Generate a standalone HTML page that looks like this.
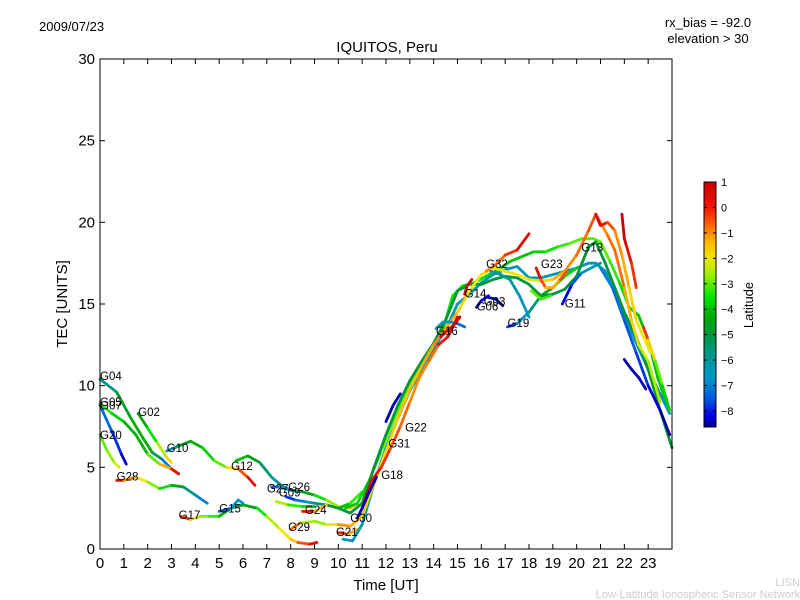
<!DOCTYPE html>
<html><head><meta charset="utf-8"><style>
body{margin:0;background:#fff;}
svg{display:block;font-family:"Liberation Sans","DejaVu Sans",sans-serif;}
</style></head><body>
<svg id="chart" width="800" height="600" viewBox="0 0 800 600">
<rect width="800" height="600" fill="#fff"/>
<text x="39" y="31" font-size="13">2009/07/23</text>
<text x="708" y="27" font-size="13" text-anchor="middle">rx_bias = -92.0</text>
<text x="708" y="43" font-size="13" text-anchor="middle">elevation &gt; 30</text>
<text x="387" y="52" font-size="15" text-anchor="middle">IQUITOS, Peru</text>
<text x="386" y="590" font-size="15" text-anchor="middle">Time [UT]</text>
<text transform="translate(67,304) rotate(-90)" font-size="15" text-anchor="middle">TEC [UNITS]</text>
<text x="800" y="586" font-size="11" fill="#ccc" text-anchor="end">LISN</text>
<text x="800" y="598" font-size="11" fill="#ccc" text-anchor="end">Low-Latitude Ionospheric Sensor Network</text>
<g id="plot"></g>
<g id="axes"></g>
<g id="cbar"></g>
</svg>
<script>
const xTicks=[0,1,2,3,4,5,6,7,8,9,10,11,12,13,14,15,16,17,18,19,20,21,22,23];
const yTicks=[0,5,10,15,20,25,30];
const cbTicks=[1,0,-1,-2,-3,-4,-5,-6,-7,-8];
const latRange=[-8.63,1.0];
const tracks=[
{t:[0,0.7,1.3,1.8,2.2,2.6,3.0,3.3],tec:[10.4,9.6,8.0,6.8,5.9,5.5,4.9,4.6],lat:[-6.5,-5,-4.5,-4,-4.5,-6,-8,-8.5]},
{t:[0,0.5,0.9,1.1],tec:[8.8,7.2,5.8,5.2],lat:[-7,-7.5,-8.2,-8.5]},
{t:[0,0.5,1,1.5,2,2.5,3,3.3],tec:[8.9,8.3,7.8,7.0,5.8,5.2,4.9,4.6],lat:[-3,-3.5,-4,-4.5,-4,-2,-0.5,0.5]},
{t:[0,0.3,0.6,0.8],tec:[7.0,6.0,5.3,5.0],lat:[-3,-3,-2.5,-2]},
{t:[1.6,2.0,2.4,2.8,3.0],tec:[8.3,7.4,6.5,5.6,5.3],lat:[-5,-4,-3,-2,-1.5]},
{t:[0.7,1.0,1.5,2,2.5,3,3.5,4,4.5],tec:[4.2,4.2,4.4,4.1,3.7,3.9,3.8,3.3,2.8],lat:[0.5,-0.5,-1.5,-2.5,-3,-4,-5,-6.5,-7.5]},
{t:[2.8,3.3,3.8,4.3,4.8,5.3,5.8,6.2,6.5],tec:[6.0,6.3,6.6,6.2,5.4,5.0,4.9,4.4,3.9],lat:[-8,-5,-4.5,-4,-3.5,-2.5,-1,0,0.5]},
{t:[5.7,6.2,6.7,7.2,7.6,8.0],tec:[5.4,5.7,5.3,4.4,3.9,3.6],lat:[-3.5,-4.5,-5,-6,-6.5,-6]},
{t:[3.4,3.8,4.2,4.6,5,5.5,6,6.6,7,7.5,8,8.3,8.8,9.1],tec:[2.0,1.8,2.0,2.0,2.0,2.5,2.7,2.5,2.0,1.3,0.6,0.4,0.3,0.4],lat:[0.5,-1,-2.5,-3,-3.5,-5,-5,-4,-3,-2,-2,-1,0,0.5]},
{t:[5,5.5,5.8,6],tec:[2.3,2.5,3.0,2.8],lat:[-8,-7,-6.5,-7]},
{t:[7.2,7.5,8,8.5,9,9.5,10,10.5,10.8],tec:[3.8,3.8,3.6,3.5,3.3,3.0,2.6,2.5,2.8],lat:[-8,-7,-6,-5,-4,-3,-2.5,-2,-1]},
{t:[7.8,8.2,8.6,9,9.5,10,10.5,11],tec:[3.2,3.0,2.9,2.8,2.7,2.5,2.8,3.5],lat:[-8.5,-7,-7,-6,-5.5,-4.5,-3.5,-3]},
{t:[8.5,9,9.5],tec:[2.3,2.3,2.7],lat:[0.5,-0.5,-2]},
{t:[7.4,7.9,8.5,9],tec:[2.9,2.7,2.6,2.6],lat:[-2,-3,-3.5,-4]},
{t:[8,8.4,9,9.5,10,10.5],tec:[1.2,1.6,1.7,1.5,1.5,1.4],lat:[0.5,-2,-3,-2.5,-1.5,-0.5]},
{t:[10,10.4,10.8],tec:[1.0,0.9,1.2],lat:[0.5,-1,-1.5]},
{t:[10.3,10.8,11.3,11.8,12.3,12.8,13.3,13.8,14.3,14.8,15.2,15.7,16.2,16.7,17.2,17.7,18.2,18.7,19.2,19.7,20.2,20.7,21.0,21.4,21.8,22.2,22.6,23.0,23.4,23.8],tec:[2.5,2.8,4.2,6.0,7.8,9.5,10.8,11.8,13.0,15.5,16.1,16.3,16.7,17.1,17.6,17.9,18.2,18.2,18.5,18.7,19.0,19.0,18.8,17.6,16.3,14.8,14.3,12.8,10.5,8.8],lat:[-4,-4,-3.5,-3,-3,-3,-3,-3,-3.5,-3.5,-3.5,-3.5,-3.5,-4,-4,-4,-4,-3.5,-3.5,-3,-3,-3,-3,-3,-3.5,-3.5,-4,-4,-4,-4]},
{t:[10.2,10.6,11.0,11.5,12.0,12.5,13.0,13.5,14.0,14.5,15.0,15.5,16.0,16.5,17.0,17.5,18.0,18.5,19.0,19.5,20.0,20.5,20.8,21.2,21.6,22.0,22.5,23.0,23.5,23.9],tec:[0.6,0.5,1.5,4.0,6.2,8.0,9.7,11.0,12.3,13.4,15.0,15.6,16.3,16.8,17.1,17.3,16.6,16.6,16.8,17.0,17.2,17.5,17.5,17.0,15.8,14.3,12.6,11.0,9.5,8.3],lat:[-6.5,-6.5,-6.5,-6.5,-6.5,-6.5,-6.5,-6.5,-6.5,-6.5,-6.5,-6.5,-6.5,-6.5,-6.5,-6.5,-6.5,-6.5,-6.5,-6.5,-6.5,-6.5,-6.5,-6.5,-6.5,-6.5,-6.5,-6.5,-6.5,-6.5]},
{t:[10.0,10.5,11.0,11.5,12.0,12.5,13.0,13.5,14.0,14.5,15.0,15.5,16.0,16.5,17.0,17.5,18.0,18.5,19.0,19.5,20.0,20.5,20.8,21.2,21.6,22.0,22.5,23.0,23.5,24.0],tec:[2.5,2.2,2.8,5.0,7.0,8.8,10.3,11.5,12.6,14.0,15.8,16.2,16.2,16.5,16.7,16.6,16.2,15.5,15.6,15.9,16.7,18.5,18.8,17.5,16.0,14.5,13.0,11.0,8.5,6.2],lat:[-5,-5,-5,-5,-5,-5,-5,-5,-5,-5,-5,-5,-5,-5,-5,-5,-5,-5,-5,-5,-5,-5,-5,-5,-5,-5,-5,-5,-5,-5]},
{t:[10.5,11.0,11.5,12.0,12.5,13.0,13.5,14.0,14.5,15.0,15.5,16.0,16.5,17.0,17.5,18.0,18.5,19.0,19.5,20.0,20.5,20.8,21.0,21.3,21.6,22.0,22.3,22.6,23.0,23.5],tec:[1.4,2.0,4.0,6.0,8.0,9.8,11.2,12.5,13.5,14.5,15.8,16.8,17.2,17.0,16.8,16.5,16.4,16.5,17.0,18.0,19.5,20.5,20.0,19.2,18.3,16.0,14.0,12.5,11.5,9.0],lat:[-1,-1.5,-2,-2,-1.5,-1.5,-1.5,-1,-1,-1.5,-2,-2,-2,-2,-2,-2,-2,-1.5,-1,-1,-0.5,-0.5,-1,-1,-0.5,-1,-1.5,-2,-2.5,-2.5]},
{t:[11.0,11.4,11.8,12.2,12.6,13.0,13.4,13.8,14.2,14.6,15.0],tec:[2.5,4.2,5.0,6.2,7.5,9.0,10.5,11.5,12.5,13.0,14.2],lat:[0.5,0.5,0,-0.5,-0.5,-1,-1,-1,-0.5,0.5,1]},
{t:[19.4,19.8,20.2,20.6,21.0],tec:[15.0,16.2,16.9,17.2,17.5],lat:[-8.5,-8,-7,-6.5,-6]},
{t:[20.8,21.0,21.3,21.6,21.9,22.2,22.5,22.8,23.1],tec:[20.5,19.8,20.0,19.5,18.0,16.0,14.0,13.0,12.0],lat:[1,0.5,0,-1,-1,-1.5,-2,-2,-2]},
{t:[21.9,22.0,22.1,22.3,22.5],tec:[20.5,19.0,18.5,17.5,16],lat:[1,1,0.5,0,-0.5]},
{t:[22.8,23.0,23.3,23.6,23.9],tec:[13.6,12.8,11.5,10.0,8.5],lat:[0.5,-1,-2.5,-3.5,-4]},
{t:[22,22.3,22.6,22.9],tec:[11.6,11.0,10.5,9.8],lat:[-8.5,-8.5,-8.3,-8.5]},
{t:[21.0,21.5,22,22.5,23,23.5,23.9],tec:[17.2,16,14,12,10,8.5,7],lat:[-7,-7,-7.5,-7.5,-8,-8.5,-8.6]},
{t:[14.1,14.4,14.7,15.0,15.3],tec:[13.5,13.9,13.9,13.8,13.6],lat:[-6,-6.5,-6.5,-7,-7.5]},
{t:[14.3,14.6,14.9,15.1],tec:[13,13.4,13.8,14.2],lat:[0.5,0.8,1,1]},
{t:[15.3,15.4,15.6],tec:[15.6,16.1,16.5],lat:[1,1,0.5]},
{t:[15.8,16.0,16.3],tec:[14.8,15.2,15.5],lat:[-8.5,-8.5,-8]},
{t:[16.3,16.6,16.9],tec:[15.4,15.3,14.9],lat:[-8,-8.5,-8.6]},
{t:[17.1,17.5,18,18.5,19,19.5,20],tec:[13.6,13.8,14.5,15.5,16.0,16.7,17.2],lat:[-8.5,-7,-6,-5,-4.5,-4,-3.5]},
{t:[16.4,16.8,17.2,17.6,18.0],tec:[17.0,16.8,16.5,15.5,14.2],lat:[-6,-6,-6,-6.5,-6.5]},
{t:[16.2,16.6,17,17.5,18],tec:[17.0,17.4,18,18.3,19.3],lat:[-1,-1,-0.5,0,1]},
{t:[18.3,18.5,18.7,19.0,19.3,19.6],tec:[17.2,16.5,16.0,16.0,16.5,17.0],lat:[1,0,-1,-1.5,-1,0]},
{t:[18.1,18.5,18.9],tec:[15.8,15.3,15.5],lat:[-3,-3,-3.5]},
{t:[10.8,11.0,11.3,11.6],tec:[1.9,2.5,3.5,4.4],lat:[-8.5,-8.5,-8.3,-8.5]},
{t:[12.0,12.3,12.6],tec:[7.8,8.8,9.5],lat:[-8.5,-8.5,-8.3]}
];
const labelNames=["G04","G05","G07","G20","G02","G28","G10","G12","G17","G15","G27","G26","G09","G24","G29","G21","G30","G18","G31","G22","G16","G14","G03","G06","G19","G32","G23","G11","G13"];
const labelT=[0,0,0,0,1.6,0.7,2.8,5.5,3.3,5.0,7.0,7.9,7.5,8.6,7.9,9.9,10.5,11.8,12.1,12.8,14.1,15.3,16.1,15.8,17.1,16.2,18.5,19.5,20.2];
const labelTec=[10.35,8.75,8.55,6.75,8.15,4.2,5.95,4.85,1.85,2.25,3.45,3.55,3.2,2.15,1.1,0.8,1.65,4.3,6.2,7.2,13.1,15.4,14.9,14.6,13.6,17.2,17.2,14.8,18.2];

const X0=100,X1=672,Y0=549,Y1=59;
const xs=t=>X0+(t/24)*(X1-X0);
const ys=v=>Y0-(v/30)*(Y0-Y1);
const NS="http://www.w3.org/2000/svg";
const cStops=[[-8.63,0,0,140],[-8.2,0,0,230],[-7.5,0,90,220],[-6.7,0,150,200],[-5.8,0,150,140],[-5.0,0,150,60],[-4.3,0,170,0],[-3.5,0,230,0],[-2.7,150,240,0],[-2.0,240,230,0],[-1.3,255,180,0],[-0.7,255,100,0],[0,240,20,0],[1,200,0,0]];
function cmap(l){
 if(l<=cStops[0][0])return `rgb(${cStops[0][1]},${cStops[0][2]},${cStops[0][3]})`;
 for(let i=0;i<cStops.length-1;i++){const a=cStops[i],b=cStops[i+1];
  if(l<=b[0]){const f=(l-a[0])/(b[0]-a[0]);
   return `rgb(${Math.round(a[1]+f*(b[1]-a[1]))},${Math.round(a[2]+f*(b[2]-a[2]))},${Math.round(a[3]+f*(b[3]-a[3]))})`;}}
 const e=cStops[cStops.length-1];return `rgb(${e[1]},${e[2]},${e[3]})`;}
const latN=l=>(l-latRange[0])/(latRange[1]-latRange[0]);
const plot=document.getElementById('plot');
tracks.forEach((tr,ti)=>{
 const g=document.createElementNS(NS,'g');
 
 
 for(let i=0;i<tr.t.length-1;i++){
  const l=document.createElementNS(NS,'line');
  l.setAttribute('x1',xs(tr.t[i]));l.setAttribute('y1',ys(tr.tec[i]));
  l.setAttribute('x2',xs(tr.t[i+1]));l.setAttribute('y2',ys(tr.tec[i+1]));
  l.setAttribute('stroke',cmap((tr.lat[i]+tr.lat[i+1])/2));
  l.setAttribute('stroke-width','2.8');l.setAttribute('stroke-linecap','round');
  
  
  g.appendChild(l);}
 plot.appendChild(g);});
labelNames.forEach((n,i)=>{
 const t=document.createElementNS(NS,'text');
 t.setAttribute('x',xs(labelT[i]));t.setAttribute('y',ys(labelTec[i]));
 t.setAttribute('font-size','11.5');t.textContent=n;
 
 
 plot.appendChild(t);});
const ax=document.getElementById('axes');
let h=`<rect x="${X0}" y="${Y1}" width="${X1-X0}" height="${Y0-Y1}" fill="none" stroke="#000" stroke-width="1"/>`;
xTicks.forEach(v=>{const x=xs(v);
 h+=`<line x1="${x}" y1="${Y0}" x2="${x}" y2="${Y0-5}" stroke="#000"/><line x1="${x}" y1="${Y1}" x2="${x}" y2="${Y1+5}" stroke="#000"/>`;
 h+=`<text x="${x}" y="568" font-size="15" text-anchor="middle">${v}</text>`;});
yTicks.forEach(v=>{const y=ys(v);
 h+=`<line x1="${X0}" y1="${y}" x2="${X0+5}" y2="${y}" stroke="#000"/><line x1="${X1}" y1="${y}" x2="${X1-5}" y2="${y}" stroke="#000"/>`;
 h+=`<text x="95" y="${y+5}" font-size="15" text-anchor="end">${v}</text>`;});
ax.innerHTML=h;
const cb=document.getElementById('cbar');
const CX=704,CW=12,CT=182,CB=427;
let c=`<defs><linearGradient id="jg" x1="0" y1="1" x2="0" y2="0">`;
cStops.forEach(s=>{c+=`<stop offset="${latN(s[0])}" stop-color="rgb(${s[1]},${s[2]},${s[3]})"/>`;});
c+=`</linearGradient></defs><rect x="${CX}" y="${CT}" width="${CW}" height="${CB-CT}" fill="url(#jg)" stroke="#000"/>`;
cbTicks.forEach(v=>{const y=CB-latN(v)*(CB-CT);
 c+=`<line x1="${CX}" y1="${y}" x2="${CX+3}" y2="${y}" stroke="#000"/><line x1="${CX+CW}" y1="${y}" x2="${CX+CW-3}" y2="${y}" stroke="#000"/>`;
 c+=`<text x="${CX+CW+5}" y="${y+4}" font-size="11">${v<0?'\u2212'+(-v):v}</text>`;});
c+=`<text transform="translate(753,305) rotate(-90)" font-size="13" text-anchor="middle">Latitude</text>`;
cb.innerHTML=c;
</script>
</body></html>
